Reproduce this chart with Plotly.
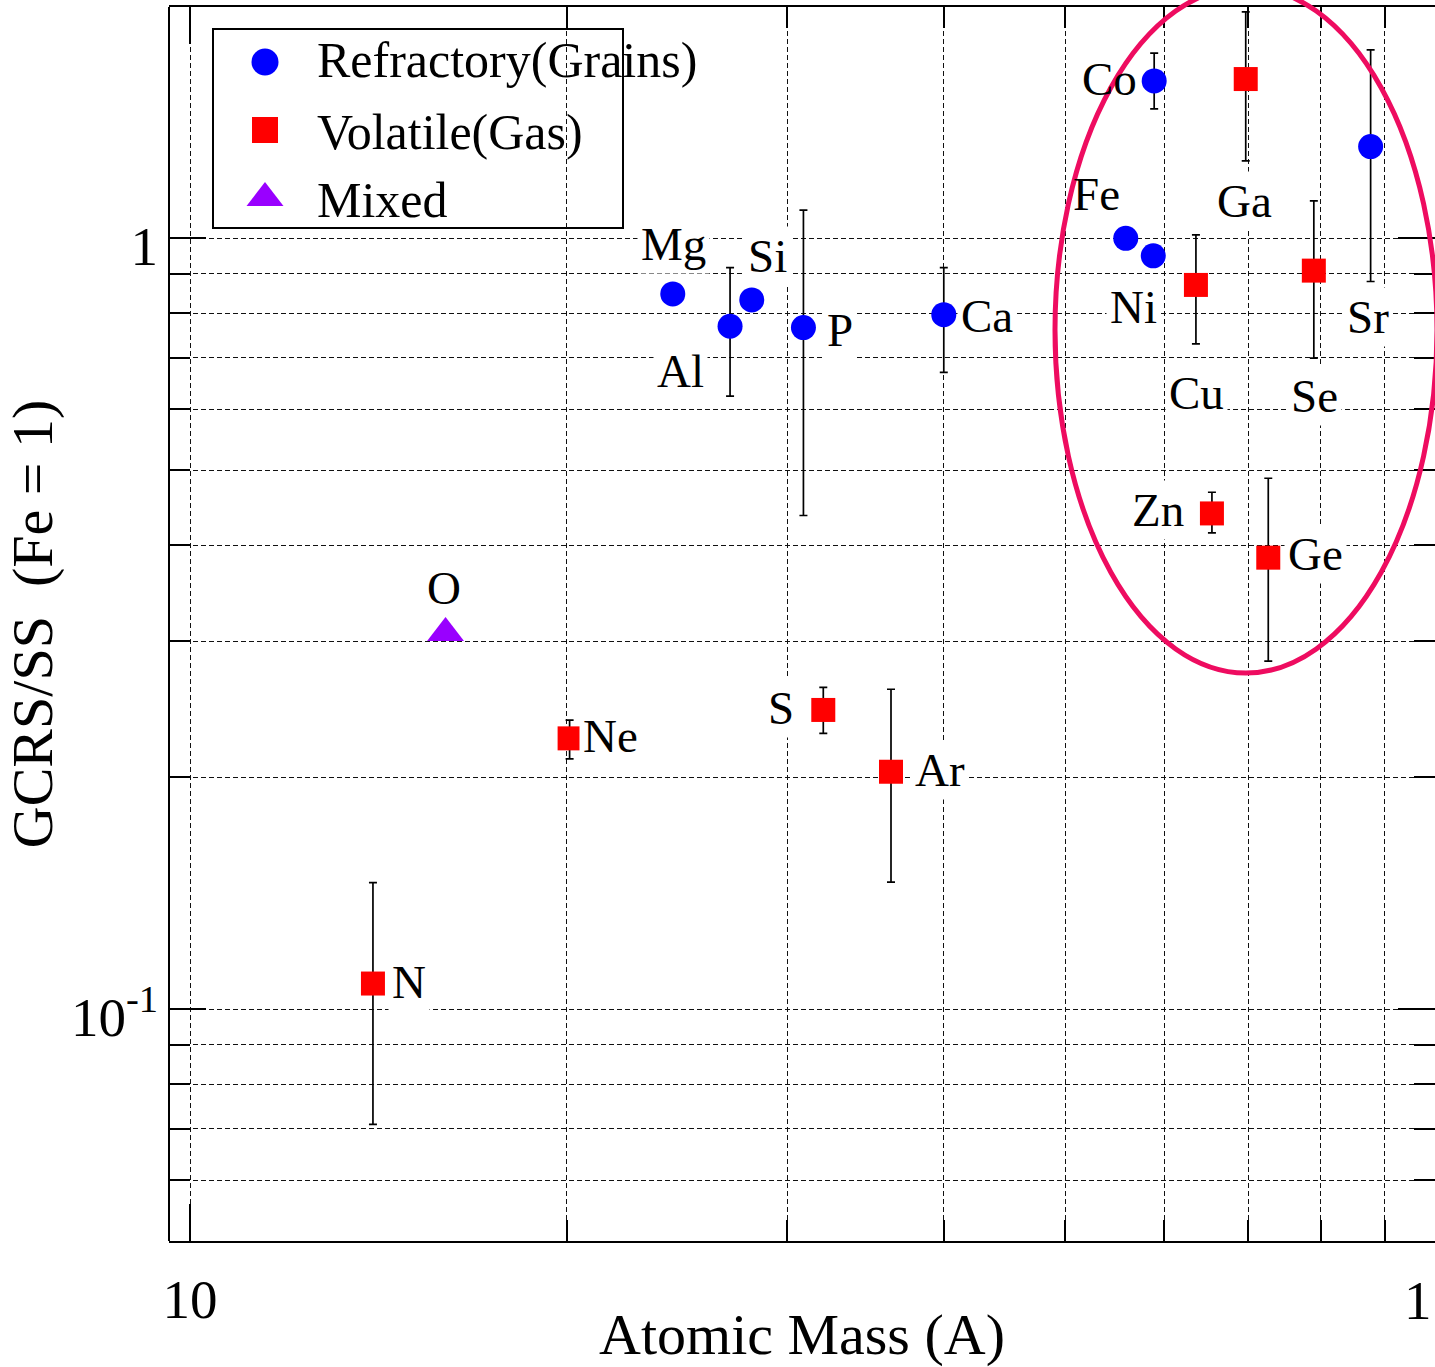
import numpy as np
import plotly.graph_objects as go

# ---------------- data ----------------
# Refractory (grains)
ref_names = ["Mg", "Al", "Si", "P", "Ca", "Fe", "Co", "Ni", "Sr"]
ref_mass = [24.3, 27.0, 28.1, 30.9, 40.0, 55.9, 58.9, 58.8, 87.7]
ref_ratio = [0.847, 0.769, 0.832, 0.766, 0.796, 1.00, 1.60, 0.949, 1.315]
ref_err_plus = [0, 0.147, 0, 0.322, 0.120, 0, 0.138, 0, 0.440]
ref_err_minus = [0, 0.145, 0, 0.329, 0.126, 0, 0.128, 0, 0.436]

# Volatile (gas)
vol_names = ["N", "Ne", "S", "Ar", "Cu", "Zn", "Ga", "Ge", "Se"]
vol_mass = [14.0, 20.1, 32.05, 36.3, 63.6, 65.5, 69.7, 72.65, 79.0]
vol_ratio = [0.108, 0.2246, 0.2445, 0.2033, 0.870, 0.4397, 1.609, 0.3853, 0.908]
vol_err_plus = [0.038, 0.0126, 0.0171, 0.0568, 0.140, 0.0287, 0.358, 0.1031, 0.210]
vol_err_minus = [0.0371, 0.0134, 0.0165, 0.0571, 0.1406, 0.0247, 0.349, 0.1024, 0.209]

# Mixed
mix_names = ["O"]
mix_mass = [16.0]
mix_ratio = [0.3077]

legend_labels = ["Refractory(Grains)", "Volatile(Gas)", "Mixed"]
x_tick_major = [10]
x_tick_minor = [20, 30, 40, 50, 60, 70, 80, 90]
y_tick_major = [0.1, 1]
y_tick_minor = [0.06, 0.07, 0.08, 0.09, 0.2, 0.3, 0.4, 0.5, 0.6, 0.7, 0.8, 0.9]

# ---------------- layout constants ----------------
FONT = "Liberation Serif"
W, H = 1435, 1367
L, R, T, B = 169, 0, 7, 126
PW, PH = W - L - R, H - T - B

def pxx(px):
    return (px - L) / PW

def pxy(py):
    return (H - B - py) / PH

# label offsets (pixels, dx right, dy down) and whether a white box is drawn
label_style = {
    "N": (36, -2, True), "O": (-2, -45, False), "Ne": (41, -2, True),
    "Mg": (1, -50, True), "Al": (-50, 45, True), "Si": (16, -44, True),
    "P": (37, 2, True), "S": (-42, -2, True), "Ar": (49, -2, True),
    "Ca": (43, 1, True), "Co": (-45, -2, False), "Fe": (-29, -44, False),
    "Ni": (-20, 51, True), "Cu": (1, 108, True), "Zn": (-54, -3, True),
    "Ga": (-1, 122, True), "Ge": (47, -4, True), "Se": (1, 125, True),
    "Sr": (-3, 170, True),
}

BLUE, RED, PURPLE = "#0000FF", "#FF0000", "#9900FF"
GRID = dict(showgrid=True, gridcolor="#111111", gridwidth=1.4, griddash="5px,3px")

fig = go.Figure()

def add_series(names, mass, ratio, ep, em, symbol, color, size):
    err = None
    if ep is not None:
        err = dict(type="data", symmetric=False, array=ep, arrayminus=em,
                   color="black", thickness=1.7, width=4)
    fig.add_trace(go.Scatter(
        x=mass, y=ratio, text=names, mode="markers",
        marker=dict(symbol=symbol, color=color, size=size, line=dict(width=0)),
        error_y=err, showlegend=False, cliponaxis=False))

add_series(ref_names, ref_mass, ref_ratio, ref_err_plus, ref_err_minus, "circle", BLUE, 25)
add_series(vol_names, vol_mass, vol_ratio, vol_err_plus, vol_err_minus, "square", RED, 24)
add_series(mix_names, mix_mass, mix_ratio, None, None, "triangle-up", PURPLE, 32)

annotations = []
for names, mass, ratio in [(ref_names, ref_mass, ref_ratio),
                           (vol_names, vol_mass, vol_ratio),
                           (mix_names, mix_mass, mix_ratio)]:
    for n, m, v in zip(names, mass, ratio):
        dx, dy, box = label_style[n]
        annotations.append(dict(
            x=np.log10(m), y=np.log10(v), xref="x", yref="y", text=n,
            showarrow=False, xanchor="center", yanchor="middle",
            xshift=dx, yshift=-dy,
            font=dict(family=FONT, size=47, color="black"),
            bgcolor="white" if box else "rgba(0,0,0,0)", borderpad=3))

# manual legend (box + markers on an overlay axis + text)
legend_rows_y = [62, 130, 198]
legend_syms = [("circle", BLUE, 27), ("square", RED, 26), ("triangle-up", PURPLE, 32)]
for (sym, col, sz), yy in zip(legend_syms, legend_rows_y):
    fig.add_trace(go.Scatter(
        x=[pxx(265)], y=[pxy(yy)], xaxis="x2", yaxis="y2", mode="markers",
        marker=dict(symbol=sym, color=col, size=sz, line=dict(width=0)),
        showlegend=False, hoverinfo="skip", cliponaxis=False))
for lab, yy in zip(legend_labels, [60, 132, 200]):
    annotations.append(dict(
        x=pxx(315), y=pxy(yy), xref="paper", yref="paper", text=lab,
        showarrow=False, xanchor="left", yanchor="middle",
        font=dict(family=FONT, size=50, color="black")))

# clipped right-hand tick label of the x axis
annotations.append(dict(
    x=pxx(1418), y=pxy(1300), xref="paper", yref="paper", text="1",
    showarrow=False, xanchor="center", yanchor="middle",
    font=dict(family=FONT, size=55, color="black")))

shapes = [
    # legend box
    dict(type="rect", xref="paper", yref="paper",
         x0=pxx(213), x1=pxx(623), y0=pxy(228), y1=pxy(29),
         line=dict(color="black", width=2), fillcolor="white", layer="between"),
    # left frame line
    dict(type="line", xref="paper", yref="paper", x0=0, x1=0, y0=0, y1=1,
         line=dict(color="black", width=2), layer="above"),
    # highlight ellipse
    dict(type="circle", xref="paper", yref="paper",
         x0=pxx(1055), x1=pxx(1437), y0=pxy(673), y1=pxy(-13),
         line=dict(color="#EE0C60", width=5), layer="above"),
]

fig.update_layout(
    template="none",
    width=W, height=H, autosize=False,
    margin=dict(l=L, r=R, t=T, b=B, pad=0),
    paper_bgcolor="white", plot_bgcolor="white",
    font=dict(family=FONT, color="black"),
    showlegend=False,
    xaxis=dict(
        type="log", range=[0.98323, 1.99441], automargin=False,
        tickmode="array", tickvals=x_tick_major, ticktext=["10"],
        ticks="inside", ticklen=37, tickwidth=2, tickcolor="black",
        showline=True, linewidth=2, linecolor="black", mirror="ticks",
        zeroline=False, **GRID,
        minor=dict(tickmode="array", tickvals=x_tick_minor, ticks="inside",
                   ticklen=21, tickwidth=2, tickcolor="black", **GRID),
        tickfont=dict(family=FONT, size=55, color="black"),
        ticklabelstandoff=9,
        title=dict(text="Atomic Mass (A)", font=dict(family=FONT, size=58, color="black"),
                   standoff=0),
    ),
    yaxis=dict(
        type="log", range=[-1.3005, 0.3], automargin=False,
        tickmode="array", tickvals=y_tick_major, ticktext=["10<sup>-1</sup>", "1"],
        ticks="inside", ticklen=37, tickwidth=2, tickcolor="black",
        showline=False, mirror="ticks",
        zeroline=False, **GRID,
        minor=dict(tickmode="array", tickvals=y_tick_minor, ticks="inside",
                   ticklen=21, tickwidth=2, tickcolor="black", **GRID),
        tickfont=dict(family=FONT, size=55, color="black"),
        ticklabelstandoff=10, ticklabelshift=7,
        title=dict(text="GCRS/SS  (Fe = 1)", font=dict(family=FONT, size=58, color="black"),
                   standoff=4),
    ),
    xaxis2=dict(overlaying="x", anchor="y2", range=[0, 1], visible=False, fixedrange=True),
    yaxis2=dict(overlaying="y", anchor="x2", range=[0, 1], visible=False, fixedrange=True),
    annotations=annotations,
    shapes=shapes,
)

fig.write_html("out.html")
